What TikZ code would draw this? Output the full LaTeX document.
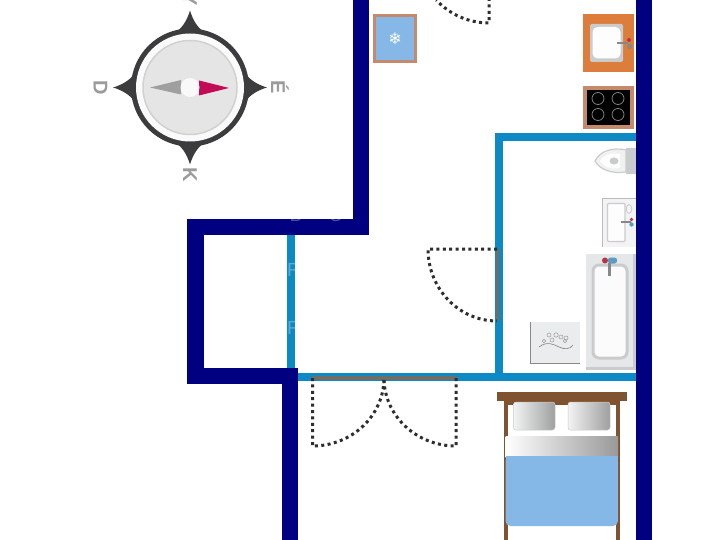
\documentclass[tikz,border=0pt]{standalone}
\usepackage{fontspec}
\setmainfont{Liberation Sans}
\newfontfamily\symfont{DejaVu Sans}
\definecolor{wallnavy}{HTML}{000080}
\definecolor{wallblue}{HTML}{0D8AC6}
\definecolor{doorgray}{HTML}{6E6E66}
\definecolor{dotdark}{HTML}{2E2E2E}
\definecolor{terra}{HTML}{C58A6B}
\definecolor{orangewood}{HTML}{DC7D3C}
\definecolor{skyfill}{HTML}{85B8E6}
\definecolor{bedbrown}{HTML}{7F5230}
\definecolor{ceramic}{HTML}{E6E7E8}
\definecolor{ceramicedge}{HTML}{C9CBCD}
\definecolor{tapgray}{HTML}{85888C}
\definecolor{tapred}{HTML}{B23A48}
\definecolor{tapblue}{HTML}{5B9CC0}
\definecolor{ringdark}{HTML}{3C3C3E}
\definecolor{lettergray}{HTML}{9B9B9B}
\definecolor{needlered}{HTML}{C20A55}
\tikzset{
  navywall/.style={line width=16.5pt,draw=wallnavy,line cap=butt,line join=miter},
  bluewall/.style={line width=8pt,draw=wallblue,line cap=butt,line join=miter},
  doorleaf/.style={line width=3.5pt,draw=doorgray},
  swing/.style={line width=3pt,draw=dotdark,dash pattern=on 3pt off 3.4pt},
  compassletter/.style={text=lettergray,font=\bfseries\fontsize{20}{20}\selectfont,rotate=-90,inner sep=0pt},
  watermark/.style={text=white,opacity=.3,font=\fontsize{19}{19}\selectfont,inner sep=0pt},
  tap/.style={line width=2pt,draw=tapgray},
}
\begin{document}
\begin{tikzpicture}[x=1pt,y=-1pt]
\useasboundingbox (0,0) rectangle (720,540);
\fill[white] (0,0) rectangle (720,540);
\begin{scope}
\clip (0,0) rectangle (720,540);
% blue partition walls
\draw[bluewall] (291,235) -- (291,370);
\draw[bluewall] (298,377) -- (636,377);
\draw[bluewall] (499,377) -- (499,137) -- (636,137);
% navy structural walls
\draw[navywall] (361,-2) -- (361,227) -- (195.5,227) -- (195.5,376) -- (290,376) -- (290,542);
\draw[navywall] (644,-2) -- (644,542);
% doors
\draw[doorleaf] (497.5,249) -- (497.5,321);
\draw[doorleaf] (312,378) -- (457,378);
\draw[swing] (497,249) -- (428,249) arc[start angle=180,end angle=90,x radius=69,y radius=72];
\draw[swing] (312.5,378) -- (312.5,446) arc[start angle=90,end angle=0,x radius=71.5,y radius=68];
\draw[swing] (456,378) -- (456,446) arc[start angle=90,end angle=180,x radius=72,y radius=68];
\draw[swing] (489,-2) -- (489,23) arc[start angle=90,end angle=137,radius=72];
% fridge
\draw[terra,line width=3pt,fill=skyfill] (374.5,15.5) rectangle (415.5,62);
\node[text=white,font=\symfont\fontsize{16}{16}\selectfont,inner sep=0pt] (snow) at (395,39) {❄};
% sink
\fill[orangewood] (583,14) rectangle (634,72);
\fill[rounded corners=2pt,ceramicedge] (590,24) rectangle (623,62);
\fill[rounded corners=5pt,white!92!ceramic] (592.5,27) rectangle (620.5,58.5);
\draw[tap] (617,43.5) -- (628,43.5);
\fill[tapred] (629,40) circle[radius=2];
\fill[tapgray] (629.5,46.5) circle[radius=2.6];
% hob
\fill[terra] (583,86) rectangle (634,129);
\fill[black] (587,90) rectangle (630,125.5);
\foreach \hx/\hy in {598/98.5,618/98.5,598/114.5,618/114.5}
  \draw[gray,line width=.8pt] (\hx,\hy) circle[radius=6];
% toilet
\fill[ceramicedge] (626,148) rectangle (636,174);
\fill[ceramic!60!white,draw=ceramicedge,line width=1.2pt] (626,150) .. controls (612,147) and (600,151) .. (595,161) .. controls (600,170) and (612,174) .. (626,172) -- cycle;
\fill[white!96!ceramic] (620,154) .. controls (610,152) and (603,156) .. (600,161) .. controls (603,166) and (610,170) .. (620,168) -- cycle;
\fill[ceramicedge] (614,161) ellipse[x radius=4.5,y radius=3.5];
% washbasin
\fill[ceramicedge!80!gray] (602,198) rectangle (636,247);
\fill[ceramic!50!white] (603,199) rectangle (636,246.5);
\draw[ceramicedge,line width=1.2pt,rounded corners=1pt,fill=white!92!ceramic] (607.5,203.5) rectangle (625,241.5);
\draw[ceramicedge,line width=.8pt] (629,209) ellipse[x radius=2.8,y radius=4.5];
\draw[tap] (620.5,222) -- (631,222);
\fill[tapred] (631.5,219.5) circle[radius=1.8];
\fill[tapblue] (631.5,224.5) circle[radius=2.2];
% bath
\fill[ceramic] (586,254) rectangle (634,370);
\fill[ceramicedge] (586,367) rectangle (636,370);
\fill[ceramicedge] (633,254) rectangle (636,370);
\draw[ceramicedge,line width=3pt,rounded corners=6pt,fill=white!85!ceramic] (593,265) rectangle (627,358);
\draw[tapgray,line width=3pt] (609.5,263) -- (609.5,276);
\fill[tapred] (605,260.5) circle[radius=3];
\fill[tapblue,rounded corners=2.5pt] (608,257.5) rectangle (617,263.5);
% bath mat
\fill[ceramic!80!white] (530,322) rectangle (580,363);
\draw[tapgray,line width=1pt] (530.5,322) -- (530.5,363.5) -- (580,363.5);
\foreach \bx/\by/\br in {549/335/2,556/335/2.2,561/337/2,566/338/2,544/341/1.7,552/340/2,565/341/1.7}
  \draw[gray!80,line width=.5pt] (\bx,\by) circle[radius=\br];
\draw[gray,line width=.6pt] (539,347) .. controls (547,341) and (553,344) .. (559,347) .. controls (565,350) and (570,349) .. (573,345);
% bed
\fill[bedbrown] (504,396) rectangle (507.5,542);
\fill[bedbrown] (616,396) rectangle (620,542);
\fill[bedbrown] (504,400) rectangle (620,405);
\fill[bedbrown] (497,392) rectangle (627,401);
\shade[left color=ceramic!50!white,right color=gray!75!white,rounded corners=2.5pt,draw=ceramicedge,line width=.5pt] (513.5,402) rectangle (555,430);
\shade[left color=ceramic!50!white,right color=gray!75!white,rounded corners=2.5pt,draw=ceramicedge,line width=.5pt] (568,402) rectangle (610,430);
\shade[left color=white,right color=gray!80!white] (505.5,436) rectangle (618,457);
\fill[skyfill,rounded corners=5pt] (505.5,456) rectangle (618,526);
\fill[skyfill] (505.5,456) rectangle (618,470);
% compass
\begin{scope}[shift={(190,87.5)}]
\foreach \ang in {0,90,180,270}
  \fill[ringdark,rotate=\ang] (0,-77) .. controls (-3,-67) and (-8,-58) .. (-19,-52) -- (19,-52) .. controls (8,-58) and (3,-67) .. (0,-77) -- cycle;
\fill[ringdark] (0,0) circle[radius=59];
\fill[white!96!gray] (0,0) circle[radius=54];
\draw[black!18,line width=1.5pt,fill=black!10] (0,0) circle[radius=47];
\fill[gray!75] (-40,0) -- (-9,-7.5) -- (-9,7) -- cycle;
\fill[needlered] (39,0.5) -- (9,-7) -- (9,8) -- cycle;
\fill[white!95!gray] (0,0) circle[radius=9.5];
\end{scope}
\node[compassletter] (north) at (190,-8) {NY};
\node[compassletter] (south) at (190,175) {K};
\node[compassletter] (west) at (100.5,88) {D};
\node[compassletter] (east) at (280,87) {É};
% watermark
\node[watermark] (wmb) at (296,215) {B};
\node[watermark] (wmo) at (336,215) {O};
\node[watermark] (wmr1) at (294,270) {R};
\node[watermark] (wmr2) at (294,328) {R};
\end{scope}
\end{tikzpicture}
\end{document}
